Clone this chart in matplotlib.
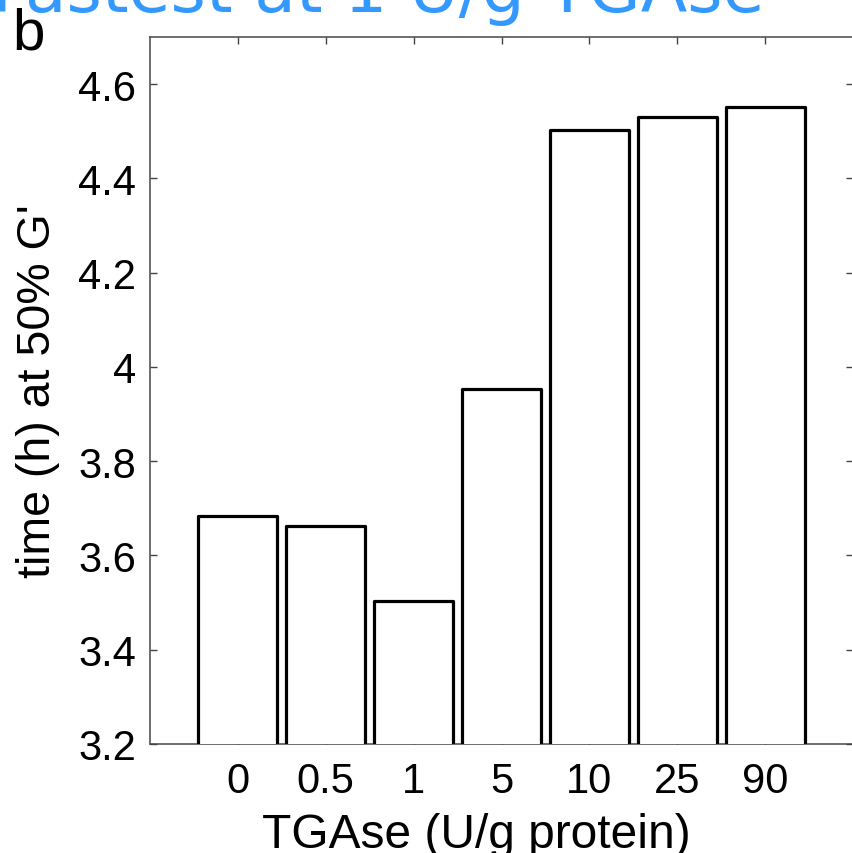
import numpy as np
import matplotlib.pyplot as plt

plt.rcParams['font.family'] = ['Liberation Sans', 'DejaVu Sans']

doses = ['0', '0.5', '1', '5', '10', '25', '90']
t50 = [3.684, 3.663, 3.503, 3.953, 4.502, 4.53, 4.551]
yticks = [3.2, 3.4, 3.6, 3.8, 4.0, 4.2, 4.4, 4.6]
ytick_labels = ['3.2', '3.4', '3.6', '3.8', '4', '4.2', '4.4', '4.6']

W, H = 852, 854
fig = plt.figure(figsize=(W / 100, H / 100), dpi=100)
ax = fig.add_axes([150 / W, (H - 745) / H, 703 / W, (745 - 38) / H])

x = np.arange(1, len(doses) + 1)
ax.bar(x, t50, width=0.9, color='white', edgecolor='black',
       linewidth=2.3, joinstyle='round', zorder=3)

ax.set_xlim(0, len(doses) + 1)
ax.set_ylim(3.2, 4.7)
ax.set_xticks(x)
ax.set_xticklabels(doses)
ax.set_yticks(yticks)
ax.set_yticklabels(ytick_labels)

for s in ax.spines.values():
    s.set_color('#555555')
    s.set_linewidth(1.2)
    s.set_zorder(1)

ax.tick_params(direction='in', top=True, right=True, length=5, width=1,
               color='#444444', labelsize=30, pad=10)
ax.tick_params(axis='x', pad=12)

ax.set_xlabel('TGAse (U/g protein)', fontsize=34.5, labelpad=8.5)
ax.xaxis.label.set_x(0.464)
ax.set_ylabel("time (h) at 50% G'", fontsize=33.5, labelpad=13)

fig.text(-8 / W, (H - 12.5) / H, 'Fastest at 1 U/g TGAse', color='#3399ff',
         fontsize=49, family='DejaVu Sans', ha='left', va='baseline')
fig.text(12 / W, (H - 50) / H, 'b', fontsize=42, ha='left', va='baseline')

fig.savefig('out.png', dpi=100)
